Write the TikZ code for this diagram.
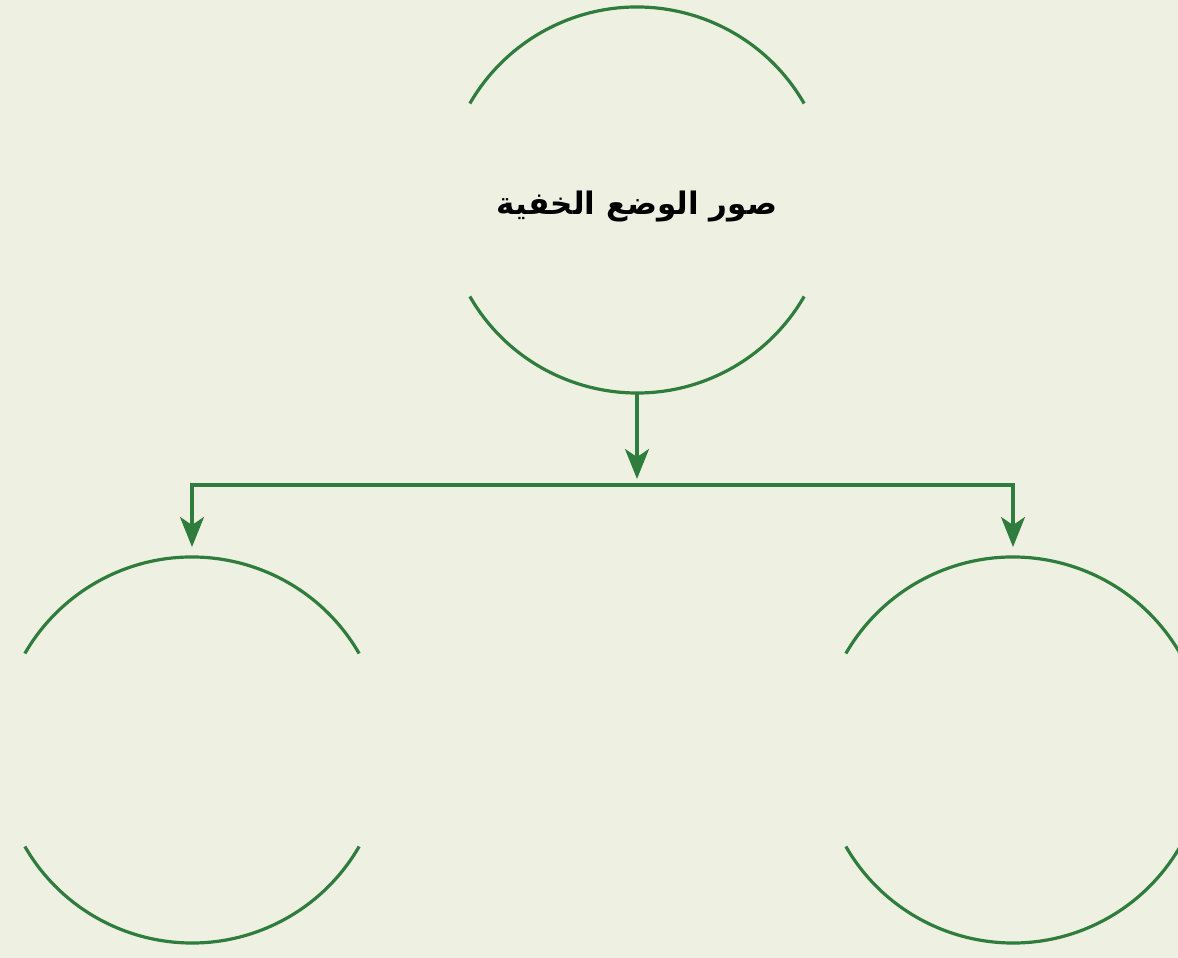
\documentclass[tikz,border=0pt]{standalone}
\usepackage{fontspec}
\usetikzlibrary{arrows.meta,positioning,calc}
\TeXXeTstate=1
\newfontfamily\arabicfont[Script=Arabic]{DejaVu Sans}
\definecolor{ChartGreen}{HTML}{2F7D3C}
\definecolor{ChartBack}{HTML}{EEF0E2}
\tikzset{
  sketch/.style={circle,minimum size=386pt,inner sep=0pt,outer sep=0pt},
  rim/.style={draw=ChartGreen,line width=3.2pt},
  feed/.style={draw=ChartGreen,line width=3.2pt,-{Stealth[length=30pt,width=24pt,inset=8pt]}},
}

\begin{document}
\begin{tikzpicture}[x=1pt,y=1pt,font=\fontsize{31}{36}\selectfont]
 \fill[ChartBack] (0,0) rectangle (1178,958);
 \useasboundingbox (0,0) rectangle (1178,958);
 % three circles, drawn as top and bottom arcs only
 \node[sketch] (hidden) at (637,758) {};
 \node (title) at ([yshift=-7pt]hidden.center) {\arabicfont\bfseries\beginR صور الوضع الخفية\endR};
 \node[sketch] (leftc) at (192,208) {};
 \node[sketch] (rightc) at (1013,208) {};
 \foreach \c in {hidden,leftc,rightc}{
  \draw[rim] (\c.30) arc[start angle=30,end angle=150,radius=193pt];
  \draw[rim] (\c.-150) arc[start angle=-150,end angle=-30,radius=193pt];
 }
 \coordinate (fork) at (637,473);
 \draw[feed] (hidden.south) -- ([yshift=6pt]fork);
 \draw[feed,{Stealth[length=30pt,width=24pt,inset=8pt]}-{Stealth[length=30pt,width=24pt,inset=8pt]}]
  ([yshift=10pt]leftc.north) |- (fork) -| ([yshift=10pt]rightc.north);
\end{tikzpicture}
\end{document}
